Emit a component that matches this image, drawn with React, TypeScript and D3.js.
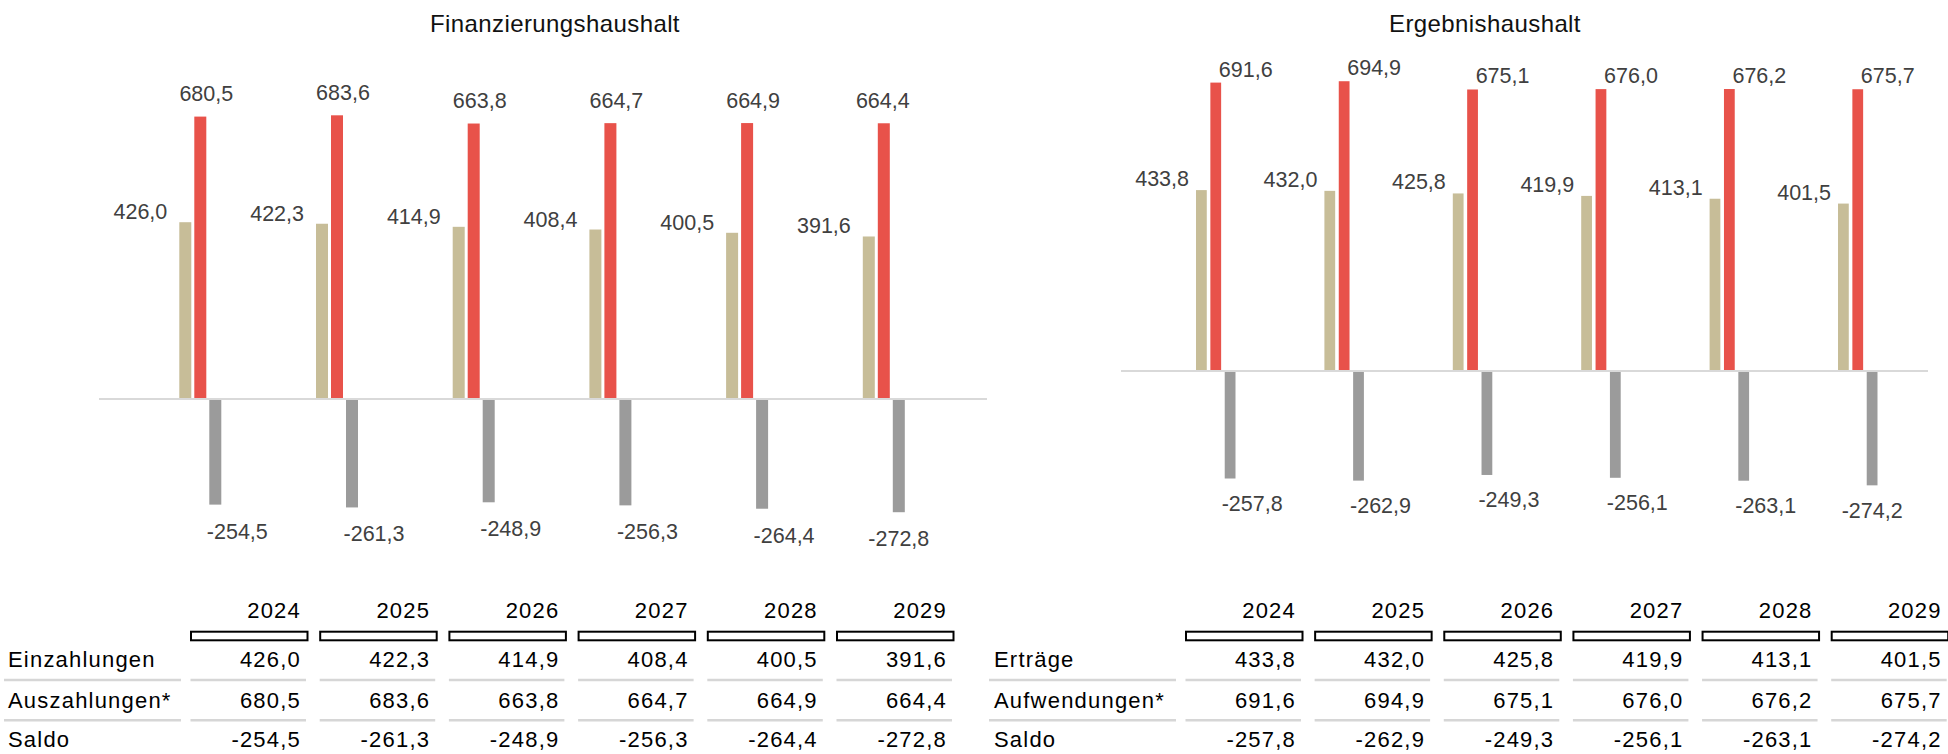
import React, { useEffect, useRef } from 'react';
import * as d3 from 'd3';

// values in Mio. EUR
const years = ['2024', '2025', '2026', '2027', '2028', '2029'];

const finTitle = 'Finanzierungshaushalt';
const finRowLabels = ['Einzahlungen', 'Auszahlungen*', 'Saldo'];
const finEinzahlungen = [426.0, 422.3, 414.9, 408.4, 400.5, 391.6];
const finAuszahlungen = [680.5, 683.6, 663.8, 664.7, 664.9, 664.4];
const finSaldo = [-254.5, -261.3, -248.9, -256.3, -264.4, -272.8];

const ergTitle = 'Ergebnishaushalt';
const ergRowLabels = ['Erträge', 'Aufwendungen*', 'Saldo'];
const ergErtraege = [433.8, 432.0, 425.8, 419.9, 413.1, 401.5];
const ergAufwendungen = [691.6, 694.9, 675.1, 676.0, 676.2, 675.7];
const ergSaldo = [-257.8, -262.9, -249.3, -256.1, -263.1, -274.2];

const seriesKeys = ['in', 'out', 'saldo'];
const colors = { in: '#c7bd98', out: '#e8524a', saldo: '#9b9b9b' };

const FONT = '"Liberation Sans", Arial, Helvetica, sans-serif';
const fmt = (v: number) => v.toFixed(1).replace('.', ',');

const App = () => {
  const svgRef = useRef<SVGSVGElement>(null);

  useEffect(() => {
    const svg = d3.select(svgRef.current);
    svg.selectAll('*').remove();

    const panels = [
      {
        title: finTitle,
        titleX: 555,
        rows: finRowLabels,
        series: [finEinzahlungen, finAuszahlungen, finSaldo],
        axis: [99, 987],
        zeroY: 399,
        k: 0.415,
        groups: [179.3, 179.3 + 6 * 136.7],
        inner: [0, 42],
        innerPad: 0.2,
        inDx: -12, inDy: -3,
        outDx: 6, outDy: -15.5,
        saldoDy: 34,
        labelX: 8,
        labelLine: [4, 181],
        cols: [301, 947],
      },
      {
        title: ergTitle,
        titleX: 1485,
        rows: ergRowLabels,
        series: [ergErtraege, ergAufwendungen, ergSaldo],
        axis: [1121, 1928],
        zeroY: 371,
        k: 0.417,
        groups: [1196, 1196 + 6 * 128.4],
        inner: [0, 39.5],
        innerPad: 0.25,
        inDx: -7, inDy: -4,
        outDx: 30, outDy: -6,
        saldoDy: 32.5,
        labelX: 994,
        labelLine: [989, 1176],
        cols: [1296, 1941.7],
      },
    ];

    panels.forEach((p) => {
      const g = svg.append('g');

      g.append('text')
        .attr('x', p.titleX)
        .attr('y', 32)
        .attr('text-anchor', 'middle')
        .attr('font-size', 24)
        .attr('letter-spacing', 0.4)
        .attr('fill', '#111')
        .text(p.title);

      const y = d3
        .scaleLinear()
        .domain([-300, 750])
        .range([p.zeroY + 300 * p.k, p.zeroY - 750 * p.k]);

      const x0 = d3.scaleBand().domain(years).range(p.groups as [number, number]);
      const x1 = d3
        .scaleBand()
        .domain(seriesKeys)
        .range(p.inner as [number, number])
        .paddingInner(p.innerPad);

      const rows = years.map((yr, i) => ({
        year: yr,
        i,
        values: seriesKeys.map((key, s) => ({ key, value: p.series[s][i] })),
      }));

      const grp = g
        .selectAll('g.grp')
        .data(rows)
        .enter()
        .append('g')
        .attr('class', 'grp')
        .attr('transform', (d) => `translate(${x0(d.year)},0)`);

      grp
        .selectAll('rect')
        .data((d) => d.values)
        .enter()
        .append('rect')
        .attr('x', (d) => x1(d.key)!)
        .attr('width', x1.bandwidth())
        .attr('y', (d) => (d.value >= 0 ? y(d.value) : y(0) + 1))
        .attr('height', (d) =>
          d.value >= 0 ? y(0) - 1 - y(d.value) : y(d.value) - y(0) - 1
        )
        .attr('fill', (d) => colors[d.key as keyof typeof colors]);

      // zero line
      g.append('line')
        .attr('x1', p.axis[0])
        .attr('x2', p.axis[1])
        .attr('y1', y(0))
        .attr('y2', y(0))
        .attr('stroke', '#d9d9d9')
        .attr('stroke-width', 2);

      // value labels
      grp.each(function (d) {
        const sel = d3.select(this);
        const bw = x1.bandwidth();
        const [vin, vout, vsal] = d.values.map((v) => v.value);
        sel
          .append('text')
          .attr('x', x1('in')! + p.inDx)
          .attr('y', y(vin) + p.inDy)
          .attr('text-anchor', 'end')
          .text(fmt(vin));
        sel
          .append('text')
          .attr('x', x1('out')! + bw / 2 + (d.i === 5 && p.outDx < 10 ? -1 : p.outDx))
          .attr('y', y(vout) + p.outDy)
          .attr('text-anchor', 'middle')
          .text(fmt(vout));
        sel
          .append('text')
          .attr('x', x1('saldo')! + bw / 2 + (d.i === 5 ? 0 : 22))
          .attr('y', y(vsal) + p.saldoDy)
          .attr('text-anchor', 'middle')
          .text(fmt(vsal));
        sel
          .selectAll('text')
          .attr('font-size', 21.5)
          .attr('fill', '#404040');
      });

      // table below
      const cx = d3.scalePoint().domain(years).range(p.cols as [number, number]);
      const t = g.append('g').attr('font-size', 22).attr('letter-spacing', 1.2).attr('fill', '#000');
      const rowY = [667.3, 707.7, 746.7];

      t.selectAll('text.yr')
        .data(years)
        .enter()
        .append('text')
        .attr('class', 'yr')
        .attr('x', (d) => cx(d)!)
        .attr('y', 618.3)
        .attr('text-anchor', 'end')
        .text((d) => d);

      t.selectAll('rect.hd')
        .data(years)
        .enter()
        .append('rect')
        .attr('class', 'hd')
        .attr('x', (d) => cx(d)! - 110)
        .attr('y', 631.7)
        .attr('width', 116.5)
        .attr('height', 8.6)
        .attr('fill', '#fff')
        .attr('stroke', '#000')
        .attr('stroke-width', 2);

      p.rows.forEach((label, r) => {
        t.append('text')
          .attr('x', p.labelX)
          .attr('y', rowY[r])
          .text(label);
        years.forEach((yr, i) => {
          t.append('text')
            .attr('x', cx(yr)!)
            .attr('y', rowY[r])
            .attr('text-anchor', 'end')
            .text(fmt(p.series[r][i]));
        });
      });

      [680, 720.3].forEach((ly) => {
        t.append('line')
          .attr('x1', p.labelLine[0])
          .attr('x2', p.labelLine[1])
          .attr('y1', ly)
          .attr('y2', ly)
          .attr('stroke', '#d6d6d6')
          .attr('stroke-width', 2.5);
        years.forEach((yr) => {
          t.append('line')
            .attr('x1', cx(yr)! - 110.5)
            .attr('x2', cx(yr)! + 5)
            .attr('y1', ly)
            .attr('y2', ly)
            .attr('stroke', '#d6d6d6')
            .attr('stroke-width', 2.5);
        });
      });
    });

    return () => {
      svg.selectAll('*').remove();
    };
  }, []);

  return (
    <svg
      ref={svgRef}
      width={1948}
      height={754}
      style={{ position: 'absolute', left: 0, top: 0, fontFamily: FONT, background: '#fff' }}
    />
  );
};

export default App;
